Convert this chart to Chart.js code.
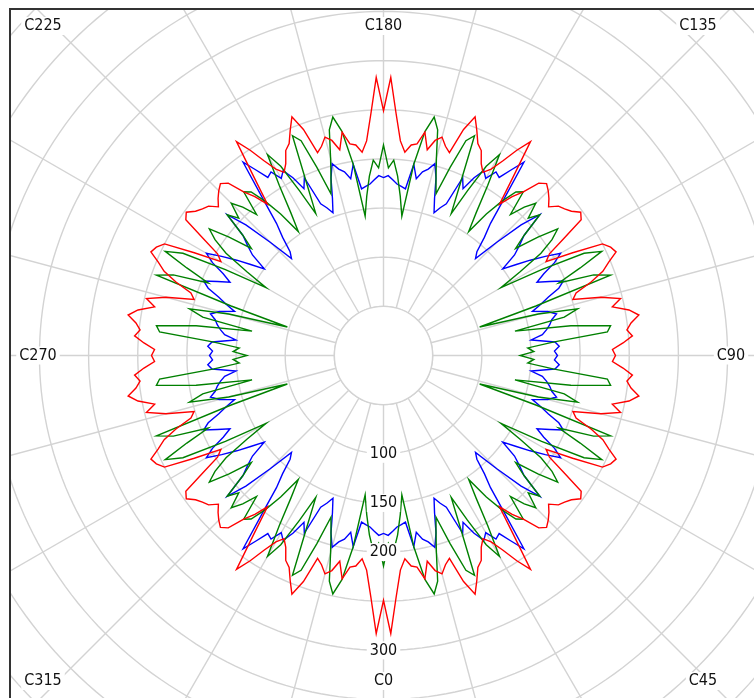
<!DOCTYPE html>
<html>
<head>
<meta charset="utf-8">
<script src="https://cdn.jsdelivr.net/npm/chart.js@4.4.1/dist/chart.umd.min.js"></script>
<style>
  html, body { margin: 0; padding: 0; background: #fff; overflow: hidden; }
  #frame { position: absolute; left: 9px; top: 8px; width: 790px; height: 740px; border: 2px solid #333; overflow: hidden; }
  canvas { display: block; }
</style>
</head>
<body>
<div id="frame"><canvas id="polarChart" width="745" height="690"></canvas></div>
<script>
// Sudut bidang C: titik pertama C180 di atas, lalu searah jarum jam tiap 1.5 derajat
const angleStep = 1.5;
const categories = [];
for (let i = 0; i < 240; i++) {
    categories.push('C' + (((180 - i * angleStep) % 360) + 360) % 360);
}

// Label sumbu dan label nilai
const axisLabels = ['C180', 'C135', 'C90', 'C45', 'C0', 'C315', 'C270', 'C225'];
const tickLabels = [100, 150, 200, 300];

// Nilai tiap seri (C180 -> C90 -> C0 -> C270 -> C180)
const redValues = [
    249,283,246,219,208,216,218,231,214,225,230,222,217,244,260,248,236,231,219,212,219,232,249,264,224,194,208,219,236,241,237,232,226,234,237,241,248,244,219,198,191,219,250,256,259,248,239,224,206,201,229,248,238,254,263,254,249,254,244,233,236,
    233,244,254,249,254,263,254,238,248,229,201,206,224,239,248,259,256,250,219,191,198,219,244,248,241,237,234,226,232,237,241,236,219,208,194,224,264,249,232,219,212,219,231,236,248,260,244,217,222,230,225,214,231,218,216,208,219,246,283,249,
    283,246,219,208,216,218,231,214,225,230,222,217,244,260,248,236,231,219,212,219,232,249,264,224,194,208,219,236,241,237,232,226,234,237,241,248,244,219,198,191,219,250,256,259,248,239,224,206,201,229,248,238,254,263,254,249,254,244,233,236,
    233,244,254,249,254,263,254,238,248,229,201,206,224,239,248,259,256,250,219,191,198,219,244,248,241,237,234,226,232,237,241,236,219,208,194,224,264,249,232,219,212,219,231,236,248,260,244,217,222,230,225,214,231,218,216,208,219,246,283
];
const greenValues = [
    214,191,199,183,163,143,197,232,248,236,208,188,173,203,234,242,193,160,188,219,236,203,173,153,178,198,214,219,193,208,219,203,214,188,173,198,219,208,191,163,138,183,229,246,219,193,229,245,163,102,163,203,188,136,193,233,229,173,147,153,139,
    153,147,173,229,233,193,136,188,203,163,102,163,245,229,193,219,246,229,183,138,163,191,208,219,198,173,188,214,203,219,208,193,219,214,198,178,153,173,203,236,219,188,160,193,242,234,203,173,188,208,236,248,232,197,143,163,183,199,191,214,
    191,199,183,163,143,197,232,248,236,208,188,173,203,234,242,193,160,188,219,236,203,173,153,178,198,214,219,193,208,219,203,214,188,173,198,219,208,191,163,138,183,229,246,219,193,229,245,163,102,163,203,188,136,193,233,229,173,147,153,139,
    153,147,173,229,233,193,136,188,203,163,102,163,245,229,193,219,246,229,183,138,163,191,208,219,198,173,188,214,203,219,208,193,219,214,198,178,153,173,203,236,219,188,160,193,242,234,203,173,188,208,236,248,232,197,143,163,183,199,191
];
const blueValues = [
    181,183,179,175,173,171,197,183,191,195,202,188,168,154,161,167,198,188,203,214,208,219,216,229,243,203,173,158,142,136,163,193,214,188,178,168,150,163,178,193,208,198,183,173,185,198,191,178,168,158,173,181,175,172,168,163,151,175,179,174,177,
    174,179,175,151,163,168,172,175,181,173,158,168,178,191,198,185,173,183,198,208,193,178,163,150,168,178,188,214,193,163,136,142,158,173,203,243,229,216,219,208,214,203,188,198,167,161,154,168,188,202,195,191,183,197,171,173,175,179,183,181,
    183,179,175,173,171,197,183,191,195,202,188,168,154,161,167,198,188,203,214,208,219,216,229,243,203,173,158,142,136,163,193,214,188,178,168,150,163,178,193,208,198,183,173,185,198,191,178,168,158,173,181,175,172,168,163,151,175,179,174,177,
    174,179,175,151,163,168,172,175,181,173,158,168,178,191,198,185,173,183,198,208,193,178,163,150,168,178,188,214,193,163,136,142,158,173,203,243,229,216,219,208,214,203,188,198,167,161,154,168,188,202,195,191,183,197,171,173,175,179,183
];

const gridColor = '#d3d3d3';
const labelFont = '16px Tahoma, "DejaVu Sans Condensed", "DejaVu Sans", sans-serif';
const centerX = 372.5;   // titik pusat di dalam canvas
const centerY = 345.5;
const pxPerUnit = 0.983;
const scaleMax = 600;

// Posisi label sumbu relatif terhadap pusat (label ditaruh di tepi bingkai)
const axisLabelPos = {
    C180: [0, -329.5], C135: [314.5, -329.5], C90: [347.5, 0], C45: [319.5, 325.5],
    C0: [0, 325.5], C315: [-340.5, 325.5], C270: [-345.5, 0], C225: [-340.5, -329.5]
};

function drawBoxedText(ctx, text, x, y) {
    const w = ctx.measureText(text).width;
    ctx.fillStyle = '#fff';
    ctx.fillRect(x - w / 2 - 3, y - 9, w + 6, 18);
    ctx.fillStyle = '#111';
    ctx.fillText(text, x, y);
}

const polarDecor = {
    id: 'polarDecor',
    beforeDatasetsDraw(chart) {
        // lubang putih di tengah (di dalam lingkaran 50)
        const scale = chart.scales.r;
        const ctx = chart.ctx;
        const r50 = scale.getDistanceFromCenterForValue(50);
        ctx.save();
        ctx.beginPath();
        ctx.arc(scale.xCenter, scale.yCenter, r50, 0, Math.PI * 2);
        ctx.fillStyle = '#fff';
        ctx.fill();
        ctx.lineWidth = 1.4;
        ctx.strokeStyle = gridColor;
        ctx.stroke();
        ctx.restore();
    },
    afterDatasetsDraw(chart) {
        const scale = chart.scales.r;
        const ctx = chart.ctx;
        ctx.save();
        ctx.font = labelFont;
        ctx.textAlign = 'center';
        ctx.textBaseline = 'middle';
        // label nilai ke arah bawah
        tickLabels.forEach(v => {
            const r = scale.getDistanceFromCenterForValue(v);
            drawBoxedText(ctx, String(v), scale.xCenter, scale.yCenter + r);
        });
        // label bidang C
        axisLabels.forEach(lbl => {
            const p = axisLabelPos[lbl];
            drawBoxedText(ctx, lbl, scale.xCenter + p[0], scale.yCenter + p[1]);
        });
        ctx.restore();
    }
};

const ctx = document.getElementById('polarChart').getContext('2d');
new Chart(ctx, {
    type: 'radar',
    data: {
        labels: categories,
        datasets: [
            { label: 'red', data: redValues, borderColor: '#ff0000' },
            { label: 'green', data: greenValues, borderColor: '#008000' },
            { label: 'blue', data: blueValues, borderColor: '#0000ff' }
        ]
    },
    options: {
        responsive: false,
        animation: false,
        layout: { padding: 0 },
        elements: {
            line: { borderWidth: 1.4, fill: false, tension: 0 },
            point: { radius: 0, hoverRadius: 0 }
        },
        scales: {
            r: {
                min: 0,
                max: scaleMax,
                ticks: { display: false, stepSize: 50 },
                pointLabels: { display: false },
                grid: { color: gridColor, lineWidth: 1.4 },
                angleLines: {
                    color: gridColor,
                    // garis jari-jari tiap 15 derajat saja
                    lineWidth: (c) => (c.index % 10 === 0 ? 1.4 : 0)
                },
                afterFit: function(scale) {
                    scale.xCenter = centerX;
                    scale.yCenter = centerY;
                    scale.drawingArea = pxPerUnit * scaleMax;
                }
            }
        },
        plugins: {
            legend: { display: false },
            tooltip: { enabled: false }
        }
    },
    plugins: [polarDecor]
});
</script>
</body>
</html>
